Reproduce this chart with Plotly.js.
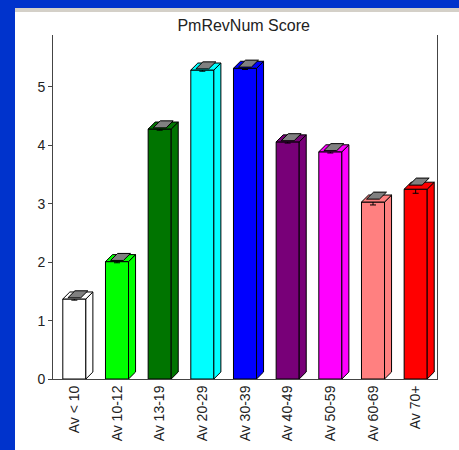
<!DOCTYPE html>
<html>
<head>
<meta charset="utf-8">
<script src="https://cdn.plot.ly/plotly-3.0.1.min.js"></script>
<style>
  html, body { margin: 0; padding: 0; width: 459px; height: 450px; background: #0033cc; overflow: hidden; }
  #panel { position: absolute; left: 15px; top: 8px; width: 444px; height: 442px; background: #ffffff; }
  #band { position: absolute; left: 0; top: 0; width: 444px; height: 4px; background: #d4d0c8; }
  #chart { position: absolute; left: 0; top: 4px; width: 444px; height: 438px; }
</style>
</head>
<body>
<div id="panel"><div id="band"></div><div id="chart"></div></div>
<script>
// ---- data ----
var categories = ["Av < 10", "Av 10-12", "Av 13-19", "Av 20-29", "Av 30-39", "Av 40-49", "Av 50-59", "Av 60-69", "Av 70+"];
var scores = [1.37, 2.01, 4.28, 5.29, 5.32, 4.06, 3.89, 3.03, 3.25];
var errors = [0.02, 0.02, 0.02, 0.02, 0.02, 0.02, 0.02, 0.05, 0.07];
var colors = ["#ffffff", "#00ff00", "#007400", "#00ffff", "#0000ff", "#780078", "#ff00ff", "#ff8080", "#ff0000"];
var yTicks = [0, 1, 2, 3, 4, 5];

// ---- styling constants ----
var barW = 0.54;   // front-face width (category units)
var dx = 0.165;    // 3D depth offset, x (category units)
var dy = 0.12;     // 3D depth offset, y (score units)

var idx = categories.map(function (_, i) { return i; });
var traces = [];

traces.push({
  type: 'bar', x: idx, y: scores, width: barW,
  marker: { color: colors, line: { color: '#000000', width: 1 } },
  error_y: { type: 'data', array: errors, visible: true, color: '#000000', thickness: 1, width: 3 },
  hoverinfo: 'skip', showlegend: false
});

function poly(xs, ys, fill, lw) {
  traces.push({
    type: 'scatter', mode: 'lines', x: xs.concat([xs[0]]), y: ys.concat([ys[0]]),
    fill: 'toself', fillcolor: fill, line: { color: '#000000', width: lw },
    hoverinfo: 'skip', showlegend: false
  });
}

idx.forEach(function (i) {
  var v = scores[i], L = i - barW / 2, R = i + barW / 2;
  // side face
  poly([R, R + dx, R + dx, R], [0, dy, v + dy, v], colors[i], 1);
  // top face
  poly([L, L + dx, R + dx, R], [v, v + dy, v + dy, v], colors[i], 1);
  // gray 3D error cap
  var e = v + errors[i], cw = barW * 0.28;
  poly([i - cw, i - cw + dx, i + cw + dx, i + cw], [e, e + dy, e + dy, e], '#808080', 1);
});

var layout = {
  width: 444, height: 438,
  margin: { l: 38, r: 22, t: 23, b: 71 },
  paper_bgcolor: '#ffffff', plot_bgcolor: '#ffffff',
  title: { text: 'PmRevNum Score', x: 0.515, xanchor: 'center', y: 0.97, yanchor: 'middle',
           font: { family: 'Liberation Sans, Arial, sans-serif', size: 16, color: '#222222' } },
  font: { family: 'Liberation Sans, Arial, sans-serif', size: 14, color: '#222222' },
  xaxis: {
    range: [-0.5, 8.5], tickmode: 'array', tickvals: idx,
    ticktext: categories.map(function (c) { return c.replace('<', '&lt;'); }),
    tickangle: -90, showgrid: false, zeroline: false, showline: true, linecolor: '#444444', linewidth: 1,
    ticks: '', fixedrange: true
  },
  yaxis: {
    range: [0, 5.89], tickmode: 'array', tickvals: yTicks, ticktext: yTicks.map(String),
    showgrid: false, zeroline: false, showline: true, linecolor: '#444444', linewidth: 1, mirror: true,
    ticks: 'outside', ticklen: 4, tickcolor: '#444444', fixedrange: true
  },
  showlegend: false, hovermode: false
};

Plotly.newPlot('chart', traces, layout, { displayModeBar: false, staticPlot: true });
</script>
</body>
</html>
